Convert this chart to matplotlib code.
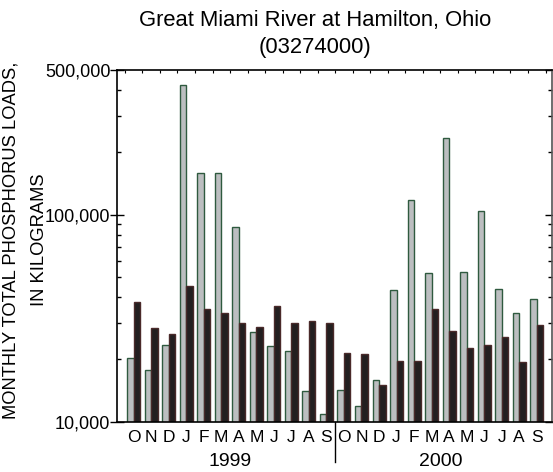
import matplotlib
matplotlib.use("Agg")
import matplotlib.pyplot as plt
import numpy as np
from matplotlib.ticker import FixedLocator, NullFormatter, LogLocator
import matplotlib.transforms as mtransforms

plt.rcParams['font.family'] = ['Liberation Sans', 'DejaVu Sans']

months = ["O", "N", "D", "J", "F", "M", "A", "M", "J", "J", "A", "S",
          "O", "N", "D", "J", "F", "M", "A", "M", "J", "J", "A", "S"]
years = ["1999", "2000"]
# gray bars
series_gray = [20200, 17800, 23400, 421700, 159600, 159600, 87300, 27100, 23100, 21900, 14000, 10900,
               14300, 11950, 15900, 43100, 118100, 52400, 235500, 53000, 104500, 43900, 33600, 39300]
# black bars
series_black = [37700, 28400, 26400, 45100, 34900, 33400, 30000, 28600, 36100, 30000, 30500, 29900,
                21400, 21200, 15000, 19700, 19600, 34900, 27300, 22700, 23400, 25600, 19400, 29300]
ytick_vals = [10000, 100000, 500000]
ytick_labels = ["10,000", "100,000", "500,000"]

fig = plt.figure(figsize=(5.53, 4.72), dpi=100)
ax = fig.add_axes([117/553, (472-421.7)/472, (552-117)/553, (421.7-70)/472])

x = np.arange(len(months))
w = 0.37
ax.bar(x - w/2, series_gray, width=w, color="#bcbec0", edgecolor="#2f5a3f", linewidth=1.0, zorder=2)
ax.bar(x + w/2, series_black, width=w, color="#231f20", edgecolor="#4a2a2a", linewidth=1.0, zorder=2)

ax.set_yscale("log")
ax.set_ylim(10000, 500000)
ax.set_xlim(-0.95, 23.87)

ax.yaxis.set_major_locator(FixedLocator(ytick_vals))
ax.set_yticklabels(ytick_labels)
ax.yaxis.set_minor_locator(LogLocator(base=10, subs=np.arange(2, 10)))
ax.yaxis.set_minor_formatter(NullFormatter())
ax.tick_params(axis='y', which='major', direction='inout', length=9.5, width=1.0,
               right=True, labelsize=13, pad=0)
ax.tick_params(axis='y', which='minor', direction='in', length=3.2, width=1.0, right=True)

ax.set_xticks(x)
ax.set_xticklabels(months)
ax.xaxis.set_minor_locator(FixedLocator(np.arange(-0.5, 24, 0.5)))
ax.tick_params(axis='x', which='major', length=0, labelsize=12.5, pad=6)
ax.tick_params(axis='x', which='minor', direction='in', length=2.2, width=0.8,
               top=True, bottom=False)

for sp in ax.spines.values():
    sp.set_linewidth(1.2)
ax.spines['right'].set_color("#555555")

# year labels and separator
trans = mtransforms.blended_transform_factory(ax.transData, ax.transAxes)
ax.text(5.5, -0.113, years[0], transform=trans, ha='center', va='center', fontsize=14)
ax.text(17.5, -0.113, years[1], transform=trans, ha='center', va='center', fontsize=14)
ax.plot([11.5, 11.5], [0, -0.114], transform=trans, color='black', lw=1.0, clip_on=False)

ax.set_ylabel("MONTHLY TOTAL PHOSPHORUS LOADS,\nIN KILOGRAMS", fontsize=13.2, linespacing=1.85)
ax.yaxis.set_label_coords((48 - 117) / 435, 0.517)

fig.text(0.570, 0.957, "Great Miami River at Hamilton, Ohio", ha='center', va='center', fontsize=15.8)
fig.text(0.570, 0.900, "(03274000)", ha='center', va='center', fontsize=15.8)

fig.savefig("out.png", dpi=100)
